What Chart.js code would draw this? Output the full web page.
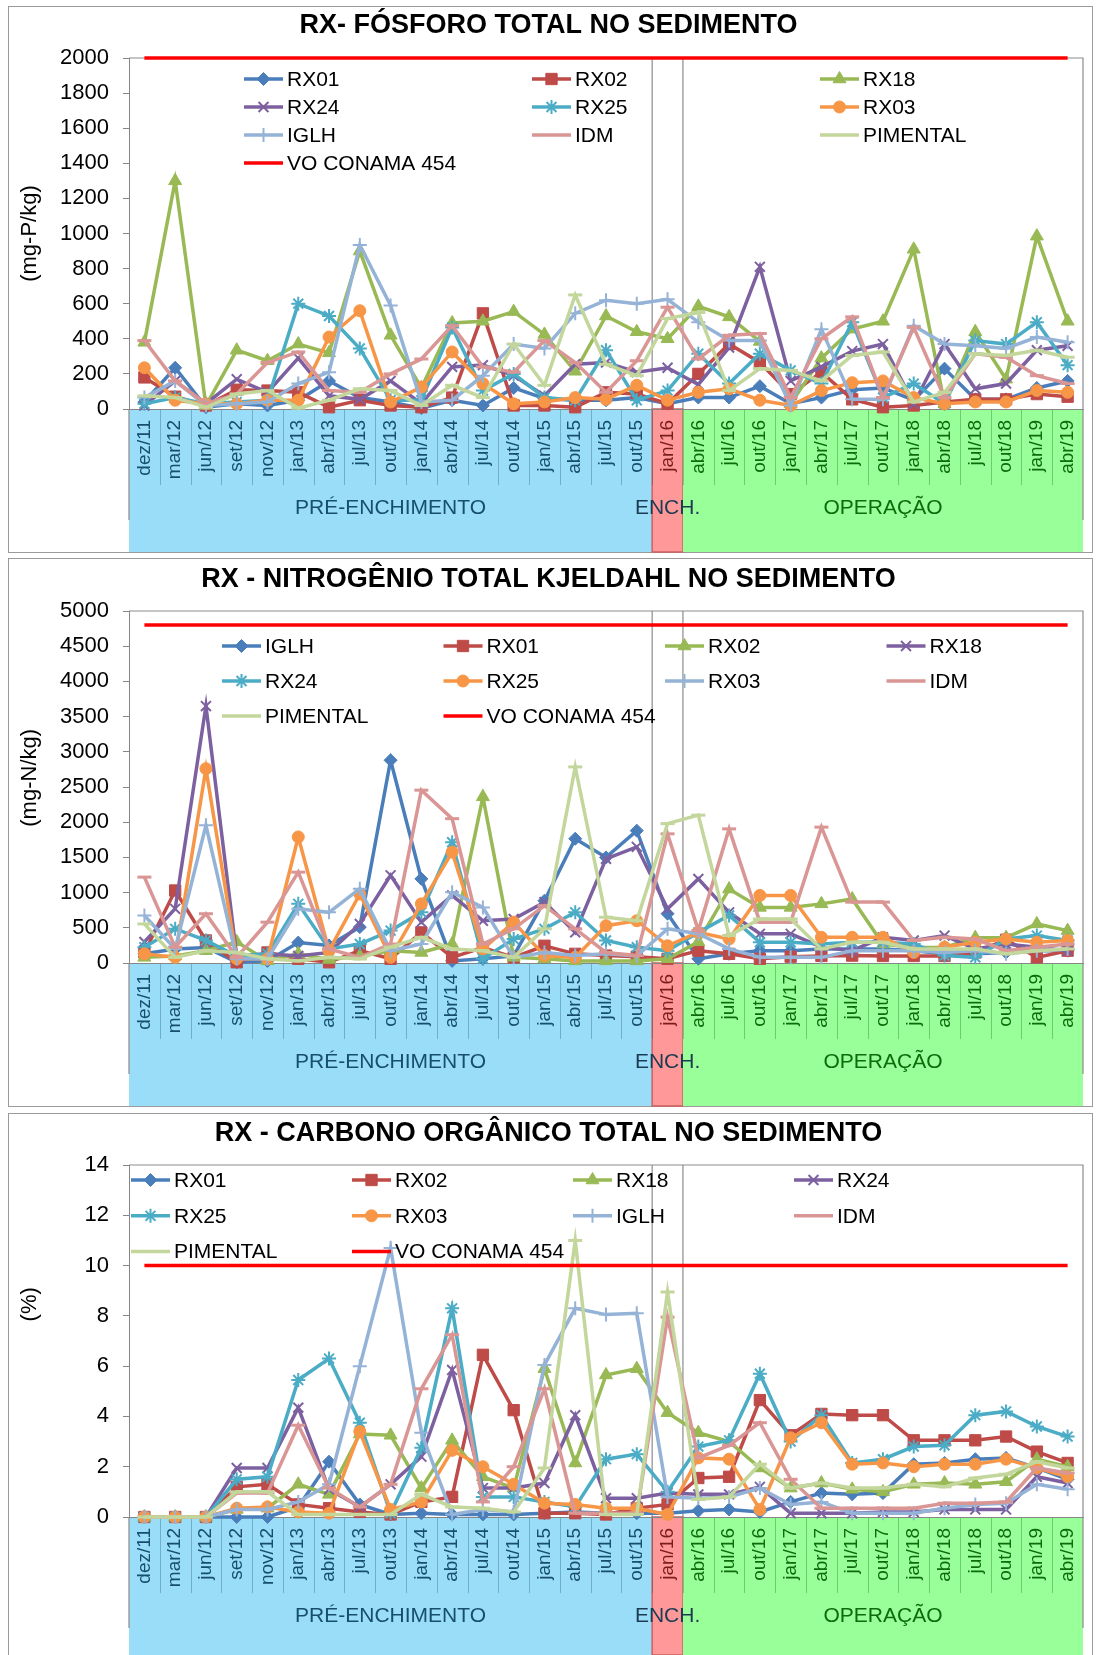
<!DOCTYPE html>
<html>
<head>
<meta charset="utf-8">
<script src="https://cdn.jsdelivr.net/npm/chart.js@4/dist/chart.umd.min.js"></script>
<style>
  html, body { margin: 0; padding: 0; background: #fff; overflow: hidden; }
  body { width: 1096px; height: 1655px; position: relative; }
  .frame { position: absolute; left: 8px; width: 1085px; border: 1px solid #9a9a9a; box-sizing: border-box; }
  canvas { position: absolute; left: 0; }
</style>
</head>
<body>
<div class="frame" style="top:6px;height:547px"></div>
<div class="frame" style="top:558px;height:549px"></div>
<div class="frame" style="top:1113px;height:600px"></div>
<canvas id="fosforo" width="1096" height="556" style="top:0px"></canvas>
<canvas id="nitrogenio" width="1096" height="554" style="top:556px"></canvas>
<canvas id="carbono" width="1096" height="545" style="top:1110px"></canvas>
<script>
const categories = ['dez/11', 'mar/12', 'jun/12', 'set/12', 'nov/12', 'jan/13', 'abr/13', 'jul/13', 'out/13',
  'jan/14', 'abr/14', 'jul/14', 'out/14', 'jan/15', 'abr/15', 'jul/15', 'out/15', 'jan/16', 'abr/16',
  'jul/16', 'out/16', 'jan/17', 'abr/17', 'jul/17', 'out/17', 'jan/18', 'abr/18', 'jul/18', 'out/18',
  'jan/19', 'abr/19'];

// phases of the reservoir (category index ranges)
const phaseNames = ['PRÉ-ENCHIMENTO', 'ENCH.', 'OPERAÇÃO'];
const phaseStart = [0, 17, 18];
const phaseEnd = [16, 17, 30];

// --- fosforo total (mg-P/kg)
const fosforoNames = ['RX01', 'RX02', 'RX18', 'RX24', 'RX25', 'RX03', 'IGLH', 'IDM', 'PIMENTAL'];
const fosforoRX01 = [40, 235, 10, 30, 20, 50, 160, 65, 40, 5, 50, 20, 120, 60, 50, 50, 65, 30, 65, 65, 130, 30, 65, 110, 120, 50, 230, 55, 55, 120, 160];
const fosforoRX02 = [180, 70, 20, 110, 105, 95, 10, 50, 20, 10, 65, 545, 20, 20, 10, 95, 85, 30, 200, 370, 265, 85, 210, 55, 10, 20, 40, 55, 55, 85, 70];
const fosforoRX18 = [380, 1300, 20, 335, 275, 370, 320, 900, 420, 120, 490, 500, 555, 425, 215, 530, 440, 400, 585, 525, 385, 30, 290, 455, 500, 910, 30, 440, 170, 985, 500];
const fosforoRX24 = [20, 160, 30, 170, 95, 290, 75, 55, 160, 30, 240, 250, 190, 75, 255, 265, 210, 235, 140, 350, 810, 160, 240, 330, 370, 30, 370, 115, 145, 335, 360];
const fosforoRX25 = [30, 65, 30, 40, 50, 600, 530, 345, 50, 50, 465, 105, 200, 65, 50, 335, 50, 105, 315, 145, 315, 220, 145, 495, 65, 145, 30, 390, 370, 495, 250];
const fosforoRX03 = [235, 50, 30, 30, 50, 50, 410, 560, 40, 125, 325, 145, 30, 40, 65, 55, 135, 50, 95, 115, 50, 20, 105, 150, 160, 65, 30, 40, 40, 105, 95];
const fosforoIGLH = [65, 160, 20, 30, 40, 145, 210, 935, 590, 40, 50, 190, 370, 345, 545, 620, 600, 625, 495, 390, 390, 20, 455, 55, 55, 475, 370, 360, 345, 410, 380];
const fosforoIDM = [390, 160, 30, 85, 265, 325, 105, 95, 200, 285, 475, 240, 210, 390, 265, 95, 275, 580, 285, 420, 430, 65, 400, 525, 65, 465, 65, 315, 295, 190, 145];
const fosforoPIMENTAL = [75, 65, 10, 85, 105, 5, 50, 115, 105, 20, 135, 65, 370, 135, 650, 255, 190, 515, 550, 105, 230, 220, 160, 305, 325, 40, 95, 315, 305, 335, 295];
const fosforoLimit = 2000;
const fosforoTicks = { max: 2000, step: 200 };

// --- nitrogenio total kjeldahl (mg-N/kg)
const nitrogenioNames = ['IGLH', 'RX01', 'RX02', 'RX18', 'RX24', 'RX25', 'RX03', 'IDM', 'PIMENTAL'];
const nitrogenioIGLH = [130, 200, 220, 10, 30, 290, 250, 510, 2880, 1195, 30, 60, 100, 885, 1765, 1500, 1880, 700, 60, 130, 175, 175, 200, 200, 200, 175, 130, 130, 150, 175, 175];
const nitrogenioRX01 = [150, 1030, 320, 10, 150, 60, 10, 175, 60, 435, 80, 220, 80, 245, 130, 105, 90, 60, 175, 130, 60, 90, 100, 105, 100, 100, 100, 150, 330, 80, 175];
const nitrogenioRX02 = [80, 100, 175, 300, 30, 130, 50, 100, 175, 150, 270, 2360, 80, 60, 30, 30, 30, 60, 300, 1050, 790, 790, 840, 910, 270, 220, 220, 360, 360, 555, 460];
const nitrogenioRX18 = [300, 770, 3650, 100, 130, 100, 150, 555, 1245, 580, 960, 600, 625, 865, 435, 1480, 1650, 770, 1195, 720, 415, 415, 225, 175, 365, 320, 390, 200, 270, 225, 175];
const nitrogenioRX24 = [225, 485, 320, 100, 130, 840, 200, 270, 460, 720, 1715, 60, 340, 485, 720, 320, 225, 175, 435, 675, 295, 295, 270, 295, 295, 270, 105, 80, 340, 390, 320];
const nitrogenioRX25 = [130, 80, 2760, 60, 60, 1790, 175, 980, 80, 840, 1575, 200, 580, 105, 80, 530, 600, 245, 435, 340, 960, 960, 365, 365, 365, 150, 225, 295, 340, 295, 320];
const nitrogenioRX03 = [675, 200, 1955, 60, 60, 770, 720, 1055, 175, 270, 1005, 790, 80, 150, 105, 130, 100, 485, 415, 200, 80, 80, 80, 175, 175, 175, 150, 175, 130, 175, 200];
const nitrogenioIDM = [1220, 225, 700, 80, 580, 1290, 200, 80, 270, 2455, 2050, 270, 485, 815, 485, 150, 105, 1835, 460, 1905, 580, 580, 1930, 865, 865, 320, 365, 340, 175, 225, 270];
const nitrogenioPIMENTAL = [555, 80, 175, 150, 60, 30, 80, 60, 225, 365, 200, 175, 80, 485, 2785, 650, 600, 1980, 2100, 390, 625, 625, 200, 295, 295, 200, 200, 200, 130, 175, 200];
const nitrogenioLimit = 4800;
const nitrogenioTicks = { max: 5000, step: 500 };

// --- carbono organico total (%)
const carbonoNames = ['RX01', 'RX02', 'RX18', 'RX24', 'RX25', 'RX03', 'IGLH', 'IDM', 'PIMENTAL'];
const carbonoRX01 = [0, 0, 0, 0, 0, 0.4, 2.2, 0.5, 0.1, 0.15, 0.1, 0.1, 0.1, 0.15, 0.2, 0.15, 0.15, 0.15, 0.25, 0.3, 0.2, 0.6, 0.95, 0.9, 0.95, 2.1, 2.15, 2.3, 2.35, 1.95, 1.5];
const carbonoRX02 = [0, 0, 0, 1.2, 1.3, 0.5, 0.35, 0.2, 0.1, 0.6, 0.8, 6.45, 4.25, 0.15, 0.15, 0.1, 0.35, 0.5, 1.55, 1.6, 4.65, 3.25, 4.1, 4.05, 4.05, 3.05, 3.05, 3.05, 3.2, 2.6, 2.15];
const carbonoRX18 = [0, 0, 0, 0.3, 0.35, 1.3, 0.9, 3.3, 3.25, 1.15, 3.05, 1.6, 1.15, 5.9, 2.15, 5.65, 5.9, 4.15, 3.35, 3.0, 1.95, 1.15, 1.35, 1.1, 1.0, 1.3, 1.35, 1.3, 1.4, 2.3, 2.0];
const carbonoRX24 = [0, 0, 0, 1.95, 1.95, 4.35, 1.1, 0.4, 1.3, 2.4, 5.85, 1.15, 1.15, 1.35, 4.05, 0.75, 0.75, 0.95, 0.9, 0.9, 1.2, 0.15, 0.15, 0.15, 0.2, 0.2, 0.3, 0.3, 0.3, 1.6, 1.35];
const carbonoRX25 = [0, 0, 0, 1.5, 1.6, 5.45, 6.3, 3.75, 0.15, 2.75, 8.3, 0.8, 0.8, 0.6, 0.4, 2.3, 2.5, 1.0, 2.8, 3.05, 5.7, 3.0, 4.05, 2.15, 2.3, 2.8, 2.85, 4.05, 4.2, 3.6, 3.2];
const carbonoRX03 = [0, 0, 0, 0.35, 0.4, 0.2, 0.15, 3.4, 0.3, 0.6, 2.65, 2.0, 1.3, 0.55, 0.5, 0.35, 0.35, 0.1, 2.35, 2.3, 0.3, 3.15, 3.75, 2.1, 2.15, 2.0, 2.1, 2.1, 2.3, 1.95, 1.6];
const carbonoIGLH = [0, 0, 0, 0.3, 0.3, 0.6, 1.3, 6.0, 10.7, 3.35, 0.1, 0.3, 0.2, 6.05, 8.3, 8.05, 8.1, 0.8, 0.75, 0.8, 1.15, 0.5, 0.6, 0.15, 0.15, 0.15, 0.35, 0.5, 0.55, 1.3, 1.1];
const carbonoIDM = [0, 0, 0, 0.95, 0.95, 3.65, 1.15, 0.4, 1.3, 5.1, 7.25, 0.6, 2.0, 5.1, 0.15, 0.15, 0.15, 7.95, 2.35, 2.85, 3.75, 1.5, 0.35, 0.35, 0.35, 0.35, 0.55, 0.55, 0.6, 1.95, 1.75];
const carbonoPIMENTAL = [0, 0, 0, 1.0, 1.0, 0.1, 0.1, 0.1, 0.1, 0.9, 0.4, 0.35, 0.2, 1.95, 11.0, 0.1, 0.1, 8.95, 0.7, 0.8, 2.1, 1.15, 1.35, 1.15, 1.15, 1.3, 1.2, 1.55, 1.7, 2.2, 1.95];
const carbonoLimit = 10;
const carbonoTicks = { max: 14, step: 2 };

// series styles, by position in each chart (excel-like)
const lineColors = ['#4a7ebb', '#be4b48', '#98b954', '#7d60a0', '#4bacc6', '#f79646', '#95b3d7', '#d99694', '#c3d69b'];
const markerStyles = ['rectRot', 'rect', 'triangle', 'crossRot', 'star', 'circle', 'cross', 'line', 'line'];
const markerSizes = [6.5, 8, 7.5, 7, 7, 6, 7, 7, 7];
const markerBorders = [1, 1, 1, 2, 2, 1, 2, 3, 3];
const phaseFills = ['#99ddf8', '#ff9999', '#99ff99'];
const phaseTextColors = ['#174e6e', '#1c3a52', '#0d6a0d'];
const tickColors = ['#174e6e', '#7a1c1c', '#0d6a0d'];
const FONT = "'Liberation Sans', Arial, sans-serif";

Chart.defaults.font.family = FONT;
Chart.defaults.color = '#000';

function phaseOf(i) {
  return i <= phaseEnd[0] ? 0 : (i <= phaseEnd[1] ? 1 : 2);
}

function makePanel(id, opt) {
  const datasets = opt.series.map((vals, i) => ({
    label: opt.names[i],
    data: vals,
    borderColor: lineColors[i],
    backgroundColor: lineColors[i],
    borderWidth: 3.5,
    pointStyle: markerStyles[i],
    pointRadius: markerSizes[i],
    pointHoverRadius: markerSizes[i],
    pointBackgroundColor: lineColors[i],
    pointBorderColor: lineColors[i],
    pointBorderWidth: markerBorders[i],
    tension: 0,
    clip: false,
    order: 20 - i
  }));
  datasets.push({
    label: 'VO CONAMA 454',
    data: categories.map(() => opt.limit),
    borderColor: '#ff0000',
    backgroundColor: '#ff0000',
    borderWidth: 3.5,
    pointRadius: 0,
    clip: false,
    order: 0
  });

  // bands under the category axis, phase names, plot box
  const phasePlugin = {
    id: 'phases' + id,
    beforeDraw(chart) {
      const { ctx, chartArea: a, scales: { x } } = chart;
      const half = (x.getPixelForValue(1) - x.getPixelForValue(0)) / 2;
      ctx.save();
      for (let k = 0; k < phaseNames.length; k++) {
        const l = x.getPixelForValue(phaseStart[k]) - half;
        const r = x.getPixelForValue(phaseEnd[k]) + half;
        ctx.fillStyle = phaseFills[k];
        ctx.fillRect(l, a.bottom, r - l, x.bottom - a.bottom);
        if (k === 1) {
          ctx.strokeStyle = '#cf5f5f';
          ctx.lineWidth = 1.5;
          ctx.strokeRect(l, a.bottom, r - l, x.bottom - a.bottom);
        }
      }
      ctx.lineWidth = 1;
      for (let i = 1; i < categories.length; i++) {
        const px = Math.round(x.getPixelForValue(i) - half) + 0.5;
        ctx.strokeStyle = phaseOf(i) === 2 ? 'rgba(30,110,30,0.35)' : 'rgba(40,90,110,0.35)';
        ctx.beginPath();
        ctx.moveTo(px, a.bottom);
        ctx.lineTo(px, a.bottom + 76);
        ctx.stroke();
      }
      ctx.font = '21px ' + FONT;
      ctx.textAlign = 'center';
      ctx.textBaseline = 'middle';
      for (let k = 0; k < phaseNames.length; k++) {
        const cx = (x.getPixelForValue(phaseStart[k]) + x.getPixelForValue(phaseEnd[k])) / 2;
        ctx.fillStyle = phaseTextColors[k];
        ctx.fillText(phaseNames[k], cx, a.bottom + 99);
      }
      ctx.restore();
    },
    beforeDatasetsDraw(chart) {
      const { ctx, chartArea: a, scales: { x } } = chart;
      const half = (x.getPixelForValue(1) - x.getPixelForValue(0)) / 2;
      ctx.save();
      ctx.strokeStyle = '#8c8c8c';
      ctx.lineWidth = 1.2;
      ctx.beginPath();
      ctx.moveTo(a.left, a.top);
      ctx.lineTo(a.right, a.top);
      ctx.lineTo(a.right, a.bottom + 111);
      ctx.moveTo(a.left, a.bottom);
      ctx.lineTo(a.left, a.bottom + 111);
      const e = phaseStart[1];
      [x.getPixelForValue(e) - half, x.getPixelForValue(e) + half].forEach(px => {
        ctx.moveTo(px, a.top);
        ctx.lineTo(px, a.bottom);
      });
      ctx.stroke();
      ctx.restore();
    }
  };

  // legend inside the plot, in a grid
  const legendPlugin = {
    id: 'legend' + id,
    afterDatasetsDraw(chart) {
      const ctx = chart.ctx;
      const L = opt.legend;
      ctx.save();
      ctx.font = '21px ' + FONT;
      ctx.textAlign = 'left';
      ctx.textBaseline = 'middle';
      chart.data.datasets.forEach((ds, i) => {
        const sx = L.x0 + (i % L.cols) * L.dx;
        const sy = L.y0 + Math.floor(i / L.cols) * L.dy;
        ctx.strokeStyle = ds.borderColor;
        ctx.lineWidth = ds.borderWidth;
        ctx.beginPath();
        ctx.moveTo(sx, sy);
        ctx.lineTo(sx + 39, sy);
        ctx.stroke();
        if (ds.pointRadius > 0 && ds.pointStyle !== 'line') {
          ctx.fillStyle = ds.pointBackgroundColor;
          ctx.lineWidth = ds.pointBorderWidth;
          Chart.helpers.drawPoint(ctx, {
            pointStyle: ds.pointStyle, radius: ds.pointRadius,
            borderWidth: ds.pointBorderWidth, rotation: 0
          }, sx + 19.5, sy);
        }
        ctx.fillStyle = '#000';
        ctx.fillText(ds.label, sx + 43, sy + 1);
      });
      ctx.restore();
    }
  };

  return new Chart(document.getElementById(id), {
    type: 'line',
    data: { labels: categories, datasets: datasets },
    plugins: [phasePlugin, legendPlugin],
    options: {
      responsive: false,
      animation: false,
      events: [],
      layout: { padding: { left: 14, right: 13, top: 0, bottom: opt.padBottom } },
      plugins: {
        legend: { display: false },
        tooltip: { enabled: false },
        title: {
          display: true,
          text: opt.title,
          color: '#000',
          font: { size: 27, weight: 'bold' },
          padding: { top: opt.titleTop, bottom: opt.titleBottom }
        }
      },
      scales: {
        x: {
          offset: true,
          grid: { display: false, drawTicks: false },
          border: { display: true, color: '#868686' },
          ticks: {
            autoSkip: false,
            minRotation: 90,
            maxRotation: 90,
            padding: 11,
            font: { size: 19 },
            color: c => tickColors[phaseOf(c.index)]
          },
          afterFit: s => {
            s.height = opt.axisHeight;
            s.paddingLeft = 0;
            s.paddingRight = 0;
          }
        },
        y: {
          min: 0,
          max: opt.ticks.max,
          ticks: {
            stepSize: opt.ticks.step,
            padding: 14,
            font: { size: 22 },
            color: '#000',
            callback: v => String(v)
          },
          grid: { drawOnChartArea: false, tickLength: 6, color: '#868686' },
          border: { color: '#868686' },
          title: {
            display: true,
            text: opt.yTitle,
            color: '#000',
            font: { size: 22 },
            padding: { top: 3, bottom: 0 }
          },
          afterFit: s => { s.width = 115; }
        }
      }
    }
  });
}

makePanel('fosforo', {
  title: 'RX- FÓSFORO TOTAL NO SEDIMENTO',
  yTitle: '(mg-P/kg)',
  names: fosforoNames,
  series: [fosforoRX01, fosforoRX02, fosforoRX18, fosforoRX24, fosforoRX25, fosforoRX03, fosforoIGLH, fosforoIDM, fosforoPIMENTAL],
  limit: fosforoLimit,
  ticks: fosforoTicks,
  titleTop: 9, titleBottom: 16.6,
  axisHeight: 143, padBottom: 4,
  legend: { x0: 244, y0: 79, dx: 288, dy: 28, cols: 3 }
});

makePanel('nitrogenio', {
  title: 'RX - NITROGÊNIO TOTAL KJELDAHL NO SEDIMENTO',
  yTitle: '   (mg-N/kg)',
  names: nitrogenioNames,
  series: [nitrogenioIGLH, nitrogenioRX01, nitrogenioRX02, nitrogenioRX18, nitrogenioRX24, nitrogenioRX25, nitrogenioRX03, nitrogenioIDM, nitrogenioPIMENTAL],
  limit: nitrogenioLimit,
  ticks: nitrogenioTicks,
  titleTop: 7, titleBottom: 15.6,
  axisHeight: 143, padBottom: 4,
  legend: { x0: 222, y0: 90, dx: 221.5, dy: 35, cols: 4 }
});

makePanel('carbono', {
  title: 'RX - CARBONO ORGÂNICO TOTAL NO SEDIMENTO',
  yTitle: '            (%)',
  names: carbonoNames,
  series: [carbonoRX01, carbonoRX02, carbonoRX18, carbonoRX24, carbonoRX25, carbonoRX03, carbonoIGLH, carbonoIDM, carbonoPIMENTAL],
  limit: carbonoLimit,
  ticks: carbonoTicks,
  titleTop: 7, titleBottom: 15.6,
  axisHeight: 138, padBottom: 0,
  legend: { x0: 131, y0: 70, dx: 221, dy: 35.8, cols: 4 }
});
</script>
</body>
</html>
